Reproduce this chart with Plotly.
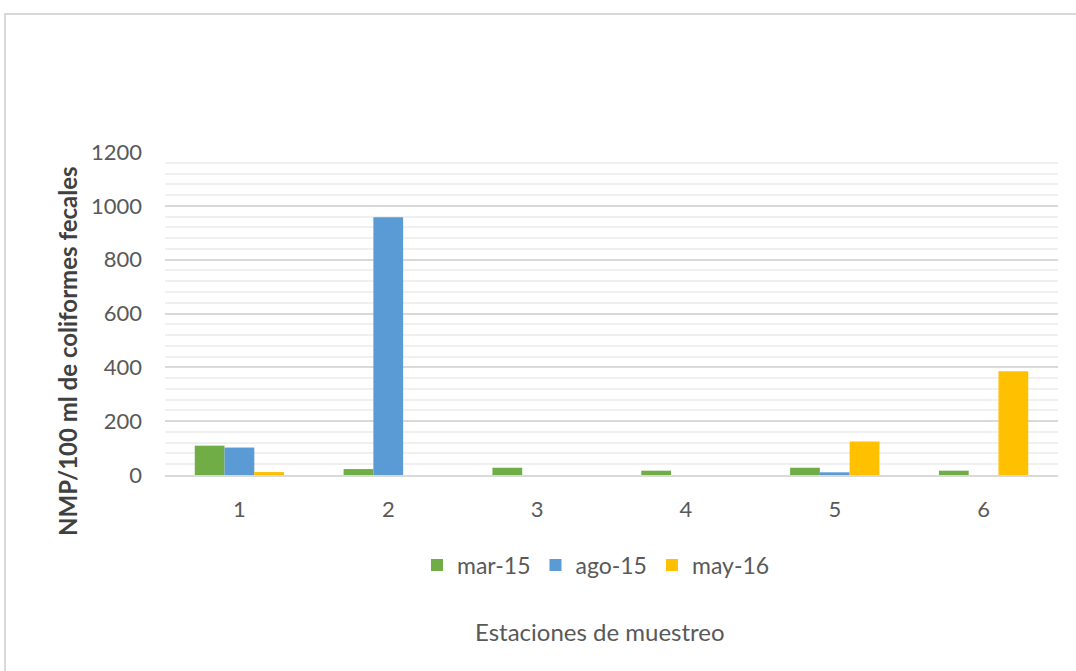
import plotly.graph_objects as go

estaciones = ["1", "2", "3", "4", "5", "6"]
mar15 = [109, 22, 27, 16, 27, 16]
ago15 = [102, 958, 0, 0, 10, 0]
may16 = [11, 0, 0, 0, 124, 385]

series = [("mar-15", mar15, "#70AD47"), ("ago-15", ago15, "#5B9BD5"), ("may-16", may16, "#FFC000")]

fig = go.Figure()
for name, vals, col in series:
    fig.add_trace(go.Bar(x=estaciones, y=vals, name=name, marker=dict(color=col, line=dict(width=0))))

L, R, T, B = 165, 18, 152, 196
W, H = 1076, 671
pw, ph = W - L - R, H - T - B
FONT = "Lato, Open Sans, sans-serif"

fig.update_layout(
    width=W, height=H,
    margin=dict(l=L, r=R, t=T, b=B),
    paper_bgcolor="white", plot_bgcolor="white",
    barmode="group", bargap=0.40, bargroupgap=0,
    font=dict(family=FONT, color="#595959", size=22),
    showlegend=True,
    legend=dict(orientation="h", x=(596 - L) / pw, xanchor="center", y=(T + ph - 565) / ph, yanchor="middle",
                font=dict(size=23, color="#595959", family=FONT), itemwidth=30, traceorder="normal"),
    xaxis=dict(showgrid=False, showline=True, linecolor="#d9d9d9", linewidth=2, ticks="",
               tickfont=dict(size=22, color="#595959"), ticklabelstandoff=14),
    yaxis=dict(range=[0, 1200], dtick=200, showgrid=True, gridcolor="#d9d9d9", gridwidth=2,
               zeroline=False, showline=False, tickfont=dict(size=22, color="#595959"),
               ticklabelstandoff=22,
               minor=dict(dtick=40, showgrid=True, gridcolor="#f0f0f0", gridwidth=2)),
    annotations=[
        dict(text="<b>NMP/100 ml de coliformes fecales</b>", xref="paper", yref="paper",
             x=(67 - L) / pw, y=(T + ph - 351) / ph, textangle=-90, showarrow=False,
             xanchor="center", yanchor="middle", font=dict(size=24, color="#404040", family=FONT)),
        dict(text="Estaciones de muestreo", xref="paper", yref="paper",
             x=(600 - L) / pw, y=(T + ph - 631) / ph, showarrow=False,
             xanchor="center", yanchor="middle", font=dict(size=24, color="#595959", family=FONT)),
    ],
    shapes=[dict(type="rect", xref="paper", yref="paper",
                 x0=(5 - L) / pw, x1=(1090 - L) / pw, y0=(T + ph - 690) / ph, y1=(T + ph - 14) / ph,
                 line=dict(color="#d9d9d9", width=2), fillcolor="rgba(0,0,0,0)", layer="below")],
)

fig.write_html("out.html")
